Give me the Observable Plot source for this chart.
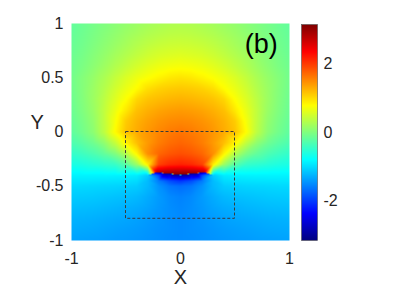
<!DOCTYPE html>
<html><head><meta charset="utf-8">
<script src="https://cdn.jsdelivr.net/npm/d3@7"></script>
<script src="https://cdn.jsdelivr.net/npm/@observablehq/plot@0.6"></script>
<style>
body{margin:0;background:#fff}
#wrap{position:relative;width:395px;height:297px}
#wrap svg{position:absolute;left:0;top:0}
</style>
</head><body><div id="wrap"></div>
<script>
// grid coordinates
const xs = [-1,-0.9,-0.8,-0.7,-0.6,-0.5,-0.4,-0.3,-0.2,-0.1,0,0.1,0.2,0.3,0.4,0.5,0.6,0.7,0.8,0.9,1];
const ys = [1,0.9,0.8,0.7,0.6,0.5,0.4,0.3,0.2,0.1,0,-0.1,-0.2,-0.3,-0.4,-0.5,-0.6,-0.7,-0.8,-0.9,-1];
// phase values, one row per y
const phaseRows = [
[-0.18,-0.12,-0.06,0.0,0.06,0.12,0.17,0.22,0.26,0.29,0.3,0.29,0.26,0.22,0.17,0.12,0.06,0.0,-0.06,-0.12,-0.18],
[-0.16,-0.1,-0.03,0.04,0.11,0.18,0.24,0.3,0.34,0.37,0.38,0.37,0.34,0.3,0.24,0.18,0.11,0.04,-0.03,-0.1,-0.16],
[-0.14,-0.08,0.0,0.08,0.16,0.24,0.32,0.39,0.44,0.47,0.48,0.47,0.44,0.39,0.32,0.24,0.16,0.08,0.0,-0.08,-0.14],
[-0.12,-0.05,0.04,0.13,0.23,0.32,0.41,0.49,0.55,0.58,0.6,0.58,0.55,0.49,0.41,0.32,0.23,0.13,0.04,-0.05,-0.12],
[-0.1,-0.02,0.08,0.19,0.31,0.42,0.53,0.62,0.69,0.73,0.75,0.73,0.69,0.62,0.53,0.42,0.31,0.19,0.08,-0.02,-0.1],
[-0.08,0.03,0.14,0.27,0.42,0.56,0.68,0.77,0.85,0.92,0.95,0.92,0.85,0.77,0.68,0.56,0.42,0.27,0.14,0.03,-0.08],
[-0.09,0.03,0.17,0.32,0.5,0.66,0.8,0.98,1.06,1.1,1.12,1.1,1.06,0.98,0.8,0.66,0.5,0.32,0.17,0.03,-0.09],
[-0.11,0.02,0.18,0.37,0.58,0.78,1.04,1.15,1.2,1.24,1.26,1.24,1.2,1.15,1.04,0.78,0.58,0.37,0.18,0.02,-0.11],
[-0.13,0.0,0.16,0.4,0.66,0.92,1.17,1.27,1.34,1.38,1.4,1.38,1.34,1.27,1.17,0.92,0.66,0.4,0.16,0.0,-0.13],
[-0.16,-0.04,0.12,0.4,0.74,1.1,1.26,1.37,1.45,1.5,1.52,1.5,1.45,1.37,1.26,1.1,0.74,0.4,0.12,-0.04,-0.16],
[-0.2,-0.08,0.08,0.38,0.8,1.15,1.3,1.43,1.53,1.6,1.64,1.6,1.53,1.43,1.3,1.15,0.8,0.38,0.08,-0.08,-0.2],
[-0.31,-0.22,-0.1,0.1,0.42,0.85,1.18,1.41,1.58,1.68,1.73,1.68,1.58,1.41,1.18,0.85,0.42,0.1,-0.1,-0.22,-0.31],
[-0.47,-0.4,-0.31,-0.18,0.0,0.33,0.85,1.48,1.72,1.82,1.87,1.82,1.72,1.48,0.85,0.33,0.0,-0.18,-0.31,-0.4,-0.47],
[-0.63,-0.6,-0.55,-0.5,-0.45,-0.24,0.16,0.9,1.95,2.1,2.15,2.1,1.95,0.9,0.16,-0.24,-0.45,-0.5,-0.55,-0.6,-0.63],
[-0.85,-0.85,-0.85,-0.85,-0.86,-0.87,-0.9,-1.1,-1.9,-2.55,-2.8,-2.55,-1.9,-1.1,-0.9,-0.87,-0.86,-0.85,-0.85,-0.85,-0.85],
[-1.02,-1.02,-1.03,-1.04,-1.05,-1.07,-1.1,-1.22,-1.45,-1.62,-1.68,-1.62,-1.45,-1.22,-1.1,-1.07,-1.05,-1.04,-1.03,-1.02,-1.02],
[-1.1,-1.11,-1.12,-1.14,-1.16,-1.18,-1.22,-1.3,-1.4,-1.5,-1.55,-1.5,-1.4,-1.3,-1.22,-1.18,-1.16,-1.14,-1.12,-1.11,-1.1],
[-1.18,-1.19,-1.2,-1.22,-1.24,-1.27,-1.3,-1.35,-1.42,-1.48,-1.52,-1.48,-1.42,-1.35,-1.3,-1.27,-1.24,-1.22,-1.2,-1.19,-1.18],
[-1.25,-1.26,-1.27,-1.29,-1.31,-1.33,-1.36,-1.4,-1.44,-1.48,-1.5,-1.48,-1.44,-1.4,-1.36,-1.33,-1.31,-1.29,-1.27,-1.26,-1.25],
[-1.3,-1.31,-1.32,-1.34,-1.36,-1.38,-1.4,-1.43,-1.46,-1.48,-1.5,-1.48,-1.46,-1.43,-1.4,-1.38,-1.36,-1.34,-1.32,-1.31,-1.3],
[-1.35,-1.36,-1.37,-1.38,-1.4,-1.41,-1.43,-1.45,-1.47,-1.49,-1.5,-1.49,-1.47,-1.45,-1.43,-1.41,-1.4,-1.38,-1.37,-1.36,-1.35]
];
// samples just above / below the phase jump (branch cut)
const arcX    = [-0.22,-0.18,-0.14,-0.1,-0.06,-0.02,0.02,0.06,0.1,0.14,0.18,0.22];
const arcTopY = [-0.369,-0.375,-0.380,-0.384,-0.387,-0.388,-0.388,-0.387,-0.384,-0.380,-0.375,-0.369];
const arcTopV = [2.7,2.85,2.95,3.0,3.05,3.05,3.05,3.05,3.0,2.95,2.85,2.7];
const arcBotY = [-0.371,-0.377,-0.382,-0.386,-0.389,-0.390,-0.390,-0.389,-0.386,-0.382,-0.377,-0.371];
const arcBotV = [-2.7,-2.85,-2.95,-3.0,-3.05,-3.05,-3.05,-3.05,-3.0,-2.95,-2.85,-2.7];
// extra samples under the cut
const extraX = [-0.3,-0.2,-0.1,0,0.1,0.2,0.3];
const extraY = -0.45;
const extraV = [-1.2,-1.6,-1.9,-2.05,-1.9,-1.6,-1.2];
// dashed box
const boxX = [-0.5, 0.5];
const boxY = [-0.8, 0];
// ticks and labels
const xTicks = [-1, 0, 1];
const yTicks = [-1, -0.5, 0, 0.5, 1];
const cTicks = [-2, 0, 2];
const panelLabel = "(b)";
const panelPos = [0.74, 0.81];
const xLabel = "X";
const yLabel = "Y";
const colorDomain = [-Math.PI, Math.PI];

const points = [];
ys.forEach((y, i) => xs.forEach((x, j) => points.push({x, y, v: phaseRows[i][j]})));
arcX.forEach((x, k) => {
  points.push({x, y: arcTopY[k], v: arcTopV[k]});
  points.push({x, y: arcBotY[k], v: arcBotV[k]});
});
extraX.forEach((x, k) => points.push({x, y: extraY, v: extraV[k]}));

const jet = d3.scaleLinear()
  .domain([0, 0.125, 0.375, 0.625, 0.875, 1])
  .range(["#00007f", "#0000ff", "#00ffff", "#ffff00", "#ff0000", "#7f0000"])
  .interpolate(d3.interpolateRgb);

const font = "'Liberation Sans', Arial, Helvetica, sans-serif";
const fmt = d => String(d);

const main = Plot.plot({
  width: 395, height: 297,
  marginLeft: 71, marginRight: 106, marginTop: 23, marginBottom: 57,
  style: {fontFamily: font, fontSize: "16px", color: "#262626", background: "transparent", overflow: "visible"},
  x: {domain: [-1, 1], ticks: xTicks, tickSize: 0, tickPadding: 12, tickFormat: fmt, label: null},
  y: {domain: [-1, 1], ticks: yTicks, tickSize: 0, tickPadding: 8, tickFormat: fmt, label: null},
  color: {type: "linear", domain: colorDomain, interpolate: jet},
  marks: [
    Plot.raster(points, {x: "x", y: "y", fill: "v", interpolate: "barycentric"}),
    Plot.rect([{x1: boxX[0], x2: boxX[1], y1: boxY[0], y2: boxY[1]}],
      {x1: "x1", x2: "x2", y1: "y1", y2: "y2", fill: "none", stroke: "#3a3a3a", strokeWidth: 1, strokeDasharray: "3,2"}),
    Plot.text([{x: panelPos[0], y: panelPos[1], t: panelLabel}], {x: "x", y: "y", text: "t", fontSize: 27, letterSpacing: 1, fill: "#000"}),
    Plot.text([xLabel], {frameAnchor: "bottom", dy: 43, text: d => d, fontSize: 20, fill: "#262626"}),
    Plot.text([yLabel], {frameAnchor: "left", dx: -41, dy: -9, text: d => d, fontSize: 20, fill: "#262626"})
  ]
});

const bar = Plot.plot({
  width: 395, height: 297,
  marginLeft: 301, marginRight: 78, marginTop: 24, marginBottom: 57,
  style: {fontFamily: font, fontSize: "16px", color: "#262626", background: "transparent"},
  x: {domain: [0, 1], axis: null},
  y: {domain: colorDomain, ticks: cTicks, axis: "right", tickSize: 0, tickPadding: 6, tickFormat: fmt, label: null},
  color: {type: "linear", domain: colorDomain, interpolate: jet},
  marks: [
    Plot.raster({x1: 0, x2: 1, y1: colorDomain[0], y2: colorDomain[1], fill: (x, y) => y, width: 1, height: 216}),
    Plot.frame({stroke: "#555", strokeWidth: 0.6})
  ]
});

const wrap = document.getElementById("wrap");
wrap.appendChild(main);
wrap.appendChild(bar);
</script>
</body></html>
